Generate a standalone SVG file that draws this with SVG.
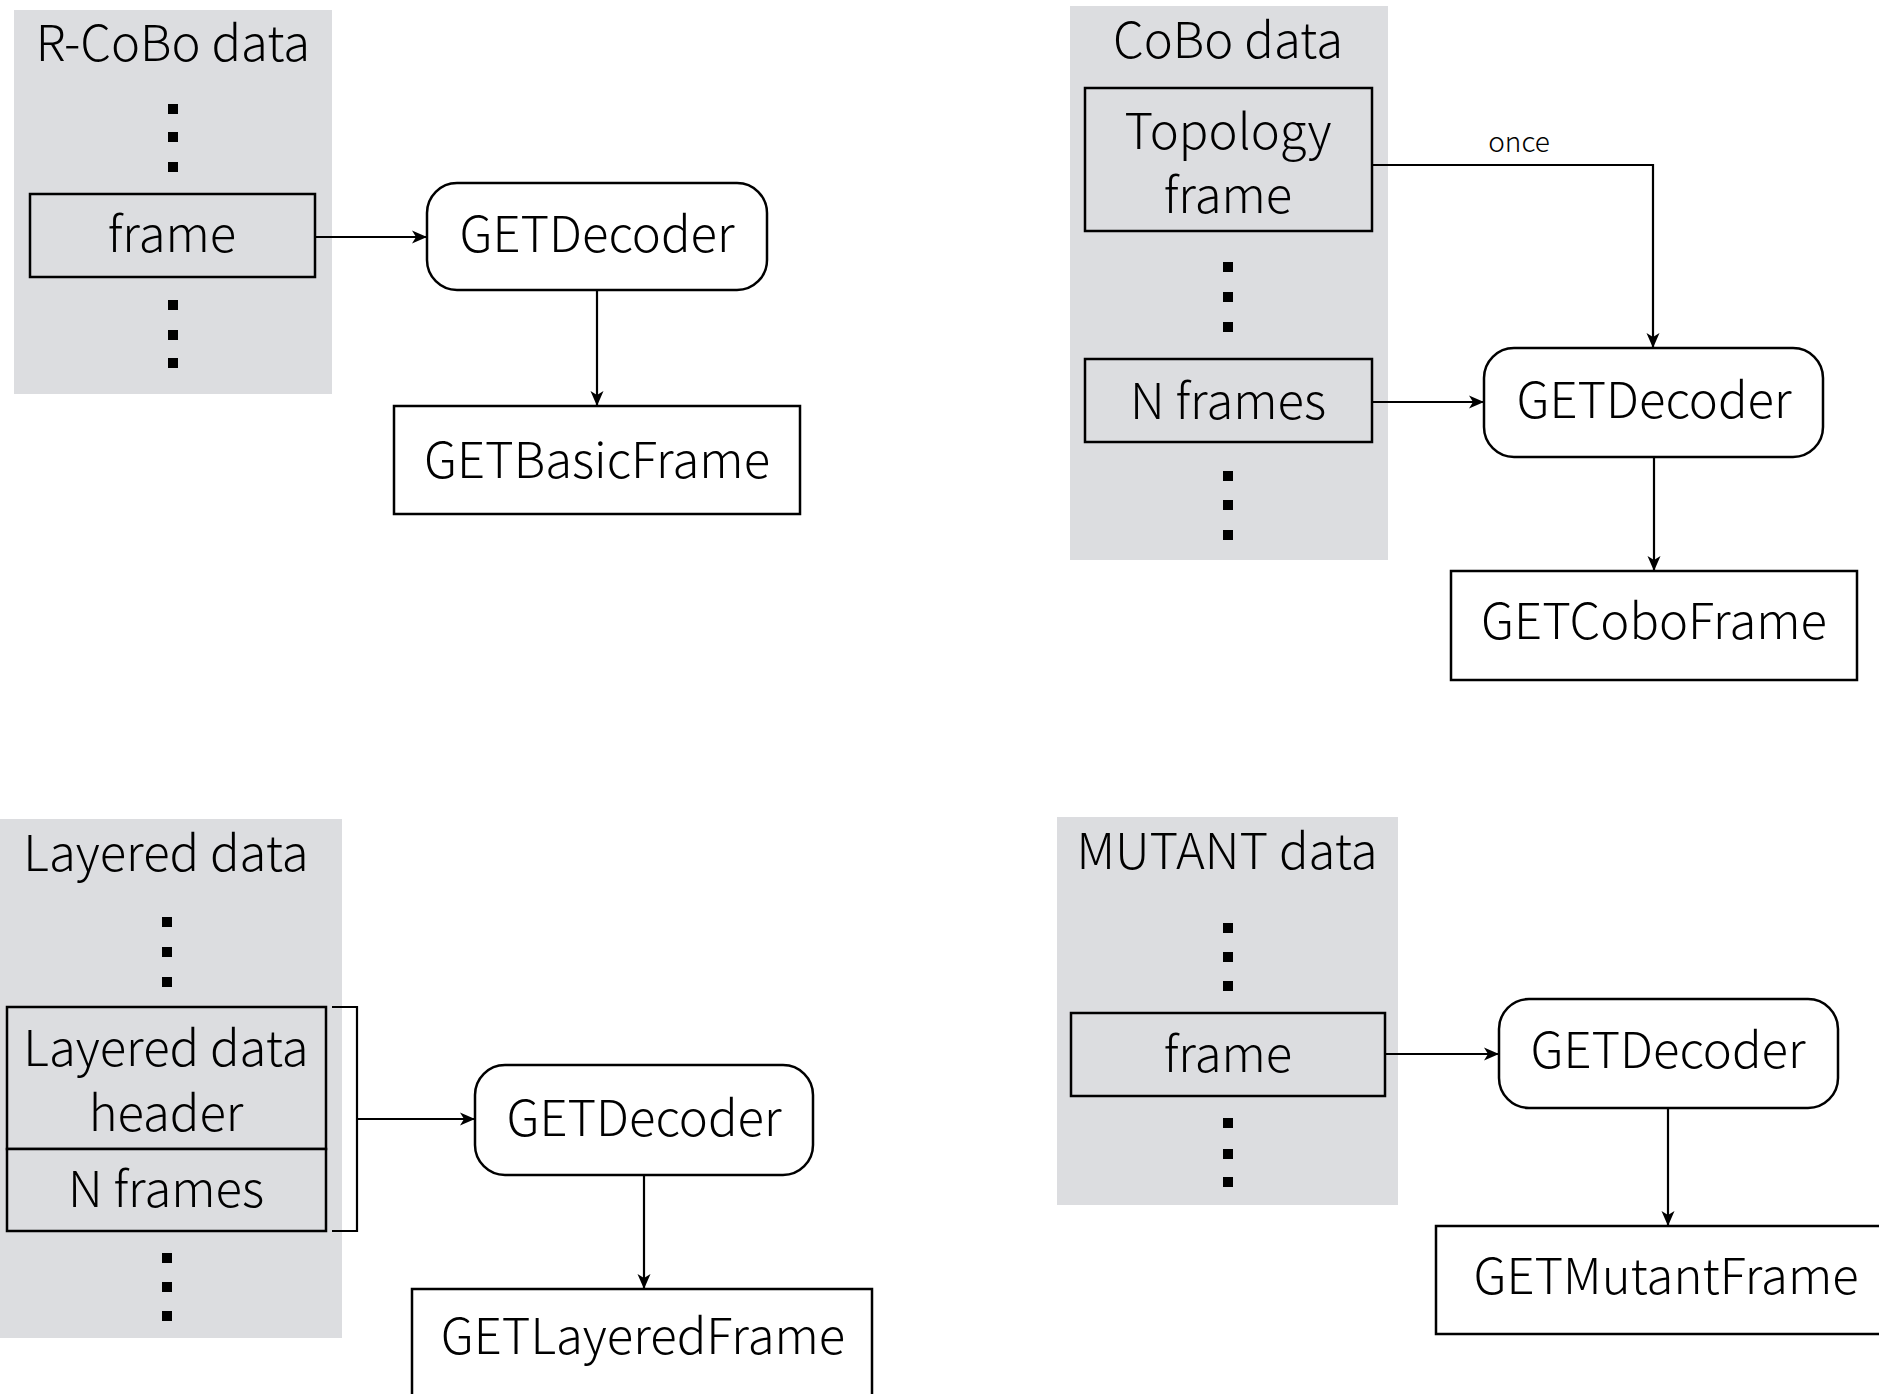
<svg xmlns="http://www.w3.org/2000/svg" width="1879" height="1394" viewBox="0 0 1879 1394">
  <style>
    .panel { fill: #dcdde0; }
    .slot { fill: #dcdde0; stroke: #000; stroke-width: 2.5; }
    .dec { fill: #fff; stroke: #000; stroke-width: 2.5; }
    .out { fill: #fff; stroke: #000; stroke-width: 2.5; }
    .dot { fill: #000; }
    .lbl { font-family: "Noto Sans CJK KR", "Noto Sans", sans-serif; font-weight: 300; font-size: 49px; fill: #000; text-anchor: middle; }
    .small { font-family: "Noto Sans CJK KR", "Noto Sans", sans-serif; font-weight: 300; font-size: 28px; fill: #000; text-anchor: middle; }
    .wire { fill: none; stroke: #000; stroke-width: 2.2; }
  </style>
  <defs>
    <marker id="arrow" viewBox="0 0 16 16" refX="15" refY="8" markerWidth="16" markerHeight="16" markerUnits="userSpaceOnUse" orient="auto">
      <path d="M0,1.5 L15,8 L0,14.5 L4,8 Z" fill="#000"/>
    </marker>
  </defs>

  <!-- R-CoBo panel -->
  <g id="rcobo-data">
    <rect class="panel" x="14" y="10" width="318" height="384"/>
    <text class="lbl" x="173" y="61">R-CoBo data</text>
    <rect class="dot" x="168" y="104" width="10" height="10"/>
    <rect class="dot" x="168" y="132" width="10" height="10"/>
    <rect class="dot" x="168" y="162" width="10" height="10"/>
    <rect class="dot" x="168" y="300" width="10" height="10"/>
    <rect class="dot" x="168" y="330" width="10" height="10"/>
    <rect class="dot" x="168" y="358" width="10" height="10"/>
  </g>
  <g id="rcobo-frame">
    <rect class="slot" x="30" y="194" width="285" height="83"/>
    <text class="lbl" x="172" y="252">frame</text>
  </g>
  <g id="rcobo-decoder">
    <rect class="dec" x="427" y="183" width="340" height="107" rx="30" ry="30"/>
    <text class="lbl" x="597" y="252">GETDecoder</text>
  </g>
  <g id="basic-frame">
    <rect class="out" x="394" y="406" width="406" height="108"/>
    <text class="lbl" x="597" y="478">GETBasicFrame</text>
  </g>

  <!-- CoBo panel -->
  <g id="cobo-data">
    <rect class="panel" x="1070" y="6" width="318" height="554"/>
    <text class="lbl" x="1228" y="58">CoBo data</text>
    <rect class="dot" x="1223" y="262" width="10" height="10"/>
    <rect class="dot" x="1223" y="292" width="10" height="10"/>
    <rect class="dot" x="1223" y="322" width="10" height="10"/>
    <rect class="dot" x="1223" y="471" width="10" height="10"/>
    <rect class="dot" x="1223" y="500" width="10" height="10"/>
    <rect class="dot" x="1223" y="530" width="10" height="10"/>
  </g>
  <g id="topology-frame">
    <rect class="slot" x="1085" y="88" width="287" height="143"/>
    <text class="lbl" x="1228" y="149">Topology</text>
    <text class="lbl" x="1228" y="213">frame</text>
  </g>
  <g id="cobo-n-frames">
    <rect class="slot" x="1085" y="359" width="287" height="83"/>
    <text class="lbl" x="1228" y="419">N frames</text>
  </g>
  <g id="cobo-decoder">
    <rect class="dec" x="1484" y="348" width="339" height="109" rx="30" ry="30"/>
    <text class="lbl" x="1654" y="418">GETDecoder</text>
  </g>
  <g id="cobo-frame">
    <rect class="out" x="1451" y="571" width="406" height="109"/>
    <text class="lbl" x="1654" y="639">GETCoboFrame</text>
  </g>

  <!-- Layered panel -->
  <g id="layered-data">
    <rect class="panel" x="0" y="819" width="342" height="519"/>
    <text class="lbl" x="166" y="871">Layered data</text>
    <rect class="dot" x="162" y="917" width="10" height="10"/>
    <rect class="dot" x="162" y="947" width="10" height="10"/>
    <rect class="dot" x="162" y="977" width="10" height="10"/>
    <rect class="dot" x="162" y="1253" width="10" height="10"/>
    <rect class="dot" x="162" y="1282" width="10" height="10"/>
    <rect class="dot" x="162" y="1311" width="10" height="10"/>
  </g>
  <g id="layered-header">
    <rect class="slot" x="7" y="1007" width="319" height="142"/>
    <text class="lbl" x="166" y="1066">Layered data</text>
    <text class="lbl" x="166" y="1131">header</text>
  </g>
  <g id="layered-n-frames">
    <rect class="slot" x="7" y="1149" width="319" height="82"/>
    <text class="lbl" x="166" y="1207">N frames</text>
  </g>
  <g id="layered-decoder">
    <rect class="dec" x="475" y="1065" width="338" height="110" rx="30" ry="30"/>
    <text class="lbl" x="644" y="1136">GETDecoder</text>
  </g>
  <g id="layered-frame">
    <rect class="out" x="412" y="1289" width="460" height="130"/>
    <text class="lbl" x="643" y="1354">GETLayeredFrame</text>
  </g>

  <!-- MUTANT panel -->
  <g id="mutant-data">
    <rect class="panel" x="1057" y="817" width="341" height="388"/>
    <text class="lbl" x="1227" y="869">MUTANT data</text>
    <rect class="dot" x="1223" y="923" width="10" height="10"/>
    <rect class="dot" x="1223" y="952" width="10" height="10"/>
    <rect class="dot" x="1223" y="981" width="10" height="10"/>
    <rect class="dot" x="1223" y="1118" width="10" height="10"/>
    <rect class="dot" x="1223" y="1149" width="10" height="10"/>
    <rect class="dot" x="1223" y="1177" width="10" height="10"/>
  </g>
  <g id="mutant-frame">
    <rect class="slot" x="1071" y="1013" width="314" height="83"/>
    <text class="lbl" x="1228" y="1072">frame</text>
  </g>
  <g id="mutant-decoder">
    <rect class="dec" x="1499" y="999" width="339" height="109" rx="30" ry="30"/>
    <text class="lbl" x="1668" y="1068">GETDecoder</text>
  </g>
  <g id="mutant-out">
    <rect class="out" x="1436" y="1226" width="462" height="108"/>
    <text class="lbl" x="1666" y="1294">GETMutantFrame</text>
  </g>

  <!-- connectors -->
  <g id="connectors">
    <path class="wire" d="M315,237 H427" marker-end="url(#arrow)"/>
    <path class="wire" d="M597,290 V406" marker-end="url(#arrow)"/>

    <path class="wire" d="M1372,165 H1653 V348" marker-end="url(#arrow)"/>
    <text class="small" x="1519" y="152">once</text>
    <path class="wire" d="M1372,402 H1484" marker-end="url(#arrow)"/>
    <path class="wire" d="M1654,457 V571" marker-end="url(#arrow)"/>

    <path class="wire" d="M332,1007 H357 V1231 H332"/>
    <path class="wire" d="M357,1119 H475" marker-end="url(#arrow)"/>
    <path class="wire" d="M644,1175 V1289" marker-end="url(#arrow)"/>

    <path class="wire" d="M1385,1054 H1499" marker-end="url(#arrow)"/>
    <path class="wire" d="M1668,1108 V1226" marker-end="url(#arrow)"/>
  </g>
</svg>
